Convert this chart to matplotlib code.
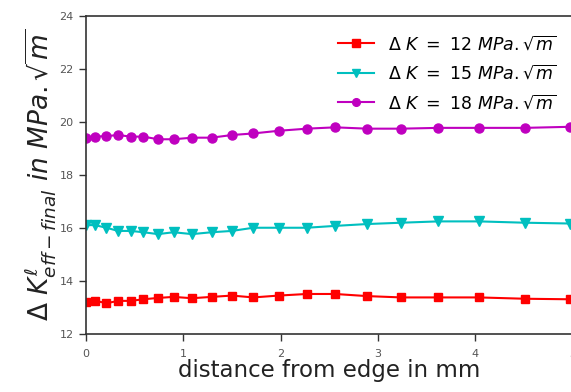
import matplotlib
matplotlib.use("Agg")
import matplotlib.pyplot as plt

# distance from edge (mm)
dist = [0, 0.09, 0.21, 0.33, 0.46, 0.59, 0.74, 0.90, 1.09, 1.29, 1.50,
        1.72, 1.98, 2.27, 2.56, 2.89, 3.24, 3.62, 4.04, 4.51, 4.97]

k12 = [13.22, 13.26, 13.16, 13.25, 13.25, 13.31, 13.36, 13.40, 13.35, 13.40, 13.45,
       13.38, 13.45, 13.51, 13.51, 13.43, 13.38, 13.38, 13.38, 13.33, 13.31]
k15 = [16.11, 16.11, 16.01, 15.89, 15.89, 15.84, 15.77, 15.84, 15.77, 15.84, 15.89,
       16.01, 16.01, 16.01, 16.08, 16.15, 16.20, 16.25, 16.25, 16.20, 16.17]
k18 = [19.38, 19.45, 19.47, 19.51, 19.45, 19.45, 19.35, 19.35, 19.41, 19.41, 19.51,
       19.57, 19.67, 19.75, 19.80, 19.75, 19.75, 19.78, 19.78, 19.78, 19.82]

labels = [r"$\Delta\ K\ =\ 12\ MPa.\sqrt{m}$",
          r"$\Delta\ K\ =\ 15\ MPa.\sqrt{m}$",
          r"$\Delta\ K\ =\ 18\ MPa.\sqrt{m}$"]

fig = plt.figure(figsize=(5.71, 3.92), dpi=100)
ax = fig.add_axes([0.1506, 0.148, 0.852, 0.811])

ax.plot(dist, k12, color="r", marker="s", markersize=6, linewidth=1.5, label=labels[0])
ax.plot(dist, k15, color="c", marker="v", markersize=6.5, linewidth=1.5, label=labels[1])
ax.plot(dist, k18, color="m", marker="o", markersize=6.5, linewidth=1.5, label=labels[2])

ax.set_xlim(0, 5)
ax.set_ylim(12, 24)
ax.set_xticks([0, 1, 2, 3, 4, 5])
ax.set_yticks([12, 14, 16, 18, 20, 22, 24])
ax.tick_params(axis="both", labelsize=8, labelcolor="#555555", color="#333333",
               direction="out", length=5, width=1)
ax.tick_params(axis="x", pad=6)
ax.tick_params(axis="y", pad=4)
for s in ax.spines.values():
    s.set_color("#333333")
    s.set_linewidth(1.2)

ax.set_xlabel("distance from edge in mm", fontsize=16.5, color="#222222", labelpad=0)
ax.set_ylabel(r"$\Delta\ K^{\ell}_{eff-final}\ in\ MPa.\sqrt{m}$", fontsize=19,
              color="#222222", labelpad=1)

ax.legend(loc="upper right", bbox_to_anchor=(1.0, 0.99), frameon=False, fontsize=12.5,
          handlelength=2.1, handletextpad=0.8, borderaxespad=0.5, labelspacing=0.62,
          markerscale=0.85)

fig.savefig("out.png", dpi=100)
